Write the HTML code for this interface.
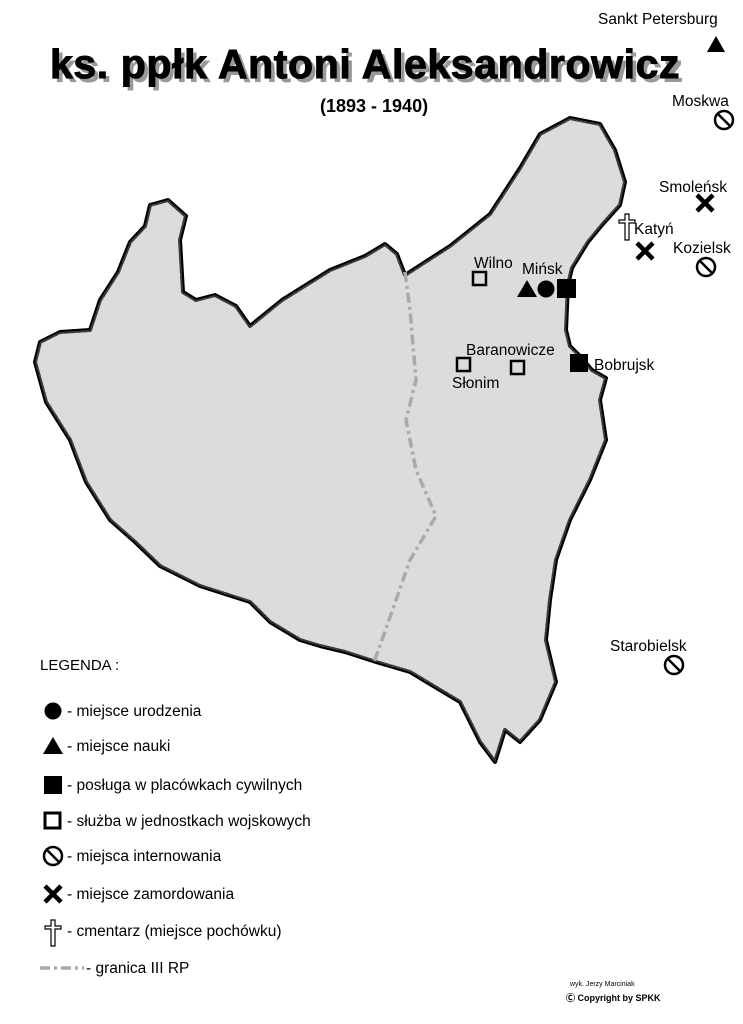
<!DOCTYPE html>
<html><head><meta charset="utf-8"><style>
body{margin:0;background:#fff}
svg{display:block}
text{font-family:"Liberation Sans",sans-serif}
</style></head><body>
<svg width="743" height="1024" viewBox="0 0 743 1024" xmlns="http://www.w3.org/2000/svg">
<defs>
<filter id="n"><feTurbulence type="fractalNoise" baseFrequency="0.9" numOctaves="2"/><feColorMatrix type="saturate" values="0"/><feComponentTransfer><feFuncR type="linear" slope="0.3" intercept="0.7"/><feFuncG type="linear" slope="0.3" intercept="0.7"/><feFuncB type="linear" slope="0.3" intercept="0.7"/></feComponentTransfer><feComposite in2="SourceGraphic" operator="in"/></filter>
</defs>
<text x="50" y="78" font-size="41" font-weight="bold" letter-spacing="0.6" fill="#999" transform="translate(4,4)">ks. ppłk Antoni Aleksandrowicz</text>
<text x="50" y="78" font-size="41" font-weight="bold" letter-spacing="0.6" stroke="#000" stroke-width="1">ks. ppłk Antoni Aleksandrowicz</text>
<text x="320" y="112" font-size="18" font-weight="bold">(1893 - 1940)</text>
<polygon points="150,205 168,200 186,216 180,240 183,292 196,300 215,295 236,306 250,326 282,300 330,270 365,256 385,244 397,254 405,275 450,246 490,214 520,168 540,134 570,118 600,124 615,150 625,182 620,205 602,225 588,242 572,268 568,285 566,330 570,346 580,356 592,370 606,378 600,400 606,440 590,480 570,520 556,560 550,600 546,640 556,682 540,720 520,742 505,730 495,762 480,742 460,702 440,690 410,672 376,662 345,652 320,646 300,640 270,622 250,602 200,586 160,566 135,542 110,520 86,482 70,440 46,402 35,362 40,342 60,332 90,330 100,300 118,272 130,242 145,226" fill="#d6d6d6" stroke="#000" stroke-width="4" stroke-linejoin="round"/>
<polygon points="150,205 168,200 186,216 180,240 183,292 196,300 215,295 236,306 250,326 282,300 330,270 365,256 385,244 397,254 405,275 450,246 490,214 520,168 540,134 570,118 600,124 615,150 625,182 620,205 602,225 588,242 572,268 568,285 566,330 570,346 580,356 592,370 606,378 600,400 606,440 590,480 570,520 556,560 550,600 546,640 556,682 540,720 520,742 505,730 495,762 480,742 460,702 440,690 410,672 376,662 345,652 320,646 300,640 270,622 250,602 200,586 160,566 135,542 110,520 86,482 70,440 46,402 35,362 40,342 60,332 90,330 100,300 118,272 130,242 145,226" fill="#fff" filter="url(#n)" opacity="0.5"/>
<polyline points="405,272 410,310 416,380 406,420 416,470 436,516 410,560 396,600 382,640 374,662" fill="none" stroke="#aaa" stroke-width="3.5" stroke-dasharray="10,4,3,4"/>
<g font-size="15.5">
<polygon points="707,52 716,36 725,52"/><text x="598" y="24">Sankt Petersburg</text>
<text x="672" y="106">Moskwa</text>
<text x="659" y="192">Smoleńsk</text>
<text x="634" y="234">Katyń</text>
<text x="673" y="253">Kozielsk</text>
<text x="474" y="268">Wilno</text>
<text x="522" y="274">Mińsk</text>
<text x="466" y="355">Baranowicze</text>
<text x="452" y="388">Słonim</text>
<text x="594" y="370">Bobrujsk</text>
<text x="610" y="651">Starobielsk</text>
</g>
<g fill="none" stroke="#000" stroke-width="2.5">
<circle cx="724" cy="120" r="9"/><line x1="718" y1="114" x2="730" y2="126"/>
<circle cx="706" cy="267" r="9"/><line x1="700" y1="261" x2="712" y2="273"/>
<circle cx="674" cy="665" r="9"/><line x1="668" y1="659" x2="680" y2="671"/>
</g>
<g stroke="#000" stroke-width="4.5">
<line x1="697" y1="195" x2="713" y2="211"/><line x1="713" y1="195" x2="697" y2="211"/>
<line x1="637" y1="243" x2="653" y2="259"/><line x1="653" y1="243" x2="637" y2="259"/>
</g>
<path d="M625 214h4v6h6v3h-6v17h-4v-17h-6v-3h6z" fill="#fff" stroke="#000" stroke-width="1.2"/>
<g fill="none" stroke="#000" stroke-width="2.5">
<rect x="473" y="272" width="13" height="13"/>
<rect x="457" y="358" width="13" height="13"/>
<rect x="511" y="361" width="13" height="13"/>
</g>
<polygon points="517,297 527,280 537,297"/>
<circle cx="546" cy="289" r="8.5"/>
<rect x="557" y="279" width="19" height="19"/>
<rect x="570" y="354" width="18" height="18"/>
<text x="40" y="670" font-size="15">LEGENDA :</text>
<g font-size="15.5">
<circle cx="53" cy="711" r="8.5"/><text x="67" y="716">- miejsce urodzenia</text>
<polygon points="43,754 53,737 63,754"/><text x="67" y="751">- miejsce nauki</text>
<rect x="44" y="776" width="18" height="18"/><text x="67" y="790">- posługa w placówkach cywilnych</text>
<rect x="45" y="813" width="15" height="15" fill="none" stroke="#000" stroke-width="3"/><text x="67" y="826">- służba w jednostkach wojskowych</text>
<circle cx="53" cy="856" r="9" fill="none" stroke="#000" stroke-width="2.5"/><line x1="47" y1="850" x2="59" y2="862" stroke="#000" stroke-width="2.5"/><text x="67" y="861">- miejsca internowania</text>
<line x1="45" y1="886" x2="61" y2="902" stroke="#000" stroke-width="4.5"/><line x1="61" y1="886" x2="45" y2="902" stroke="#000" stroke-width="4.5"/><text x="67" y="899">- miejsce zamordowania</text>
<path d="M51 920h4v6h6v3h-6v17h-4v-17h-6v-3h6z" fill="#fff" stroke="#000" stroke-width="1.2"/><text x="67" y="936">- cmentarz (miejsce pochówku)</text>
<line x1="40" y1="968" x2="84" y2="968" stroke="#aaa" stroke-width="3.5" stroke-dasharray="10,4,3,4"/><text x="86" y="973">- granica III RP</text>
</g>
<text x="570" y="986" font-size="7">wyk. Jerzy Marciniak</text>
<text x="566" y="1001" font-size="9" font-weight="bold" font-family="Liberation Serif">Ⓒ Copyright by SPKK</text>
</svg>
</body></html>
